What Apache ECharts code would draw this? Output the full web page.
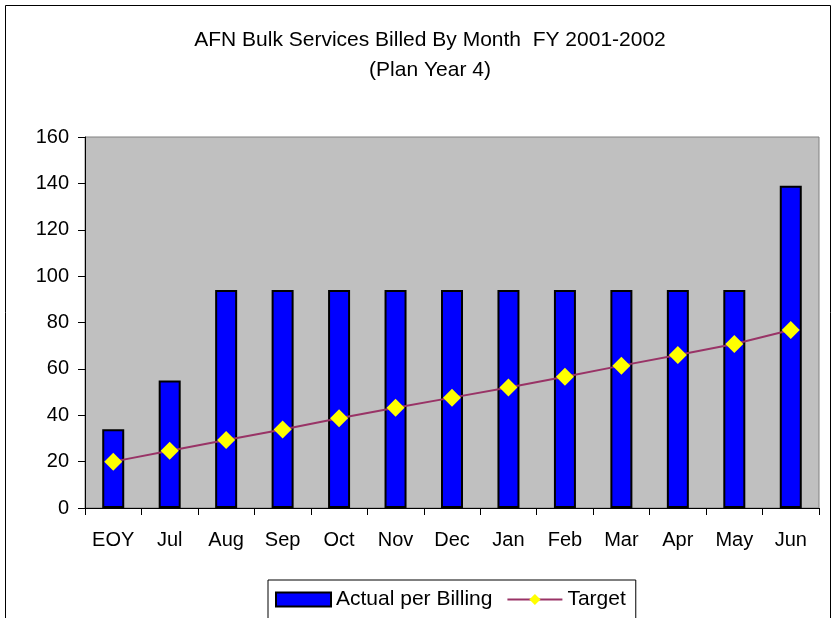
<!DOCTYPE html>
<html>
<head>
<meta charset="utf-8">
<script src="https://cdn.jsdelivr.net/npm/echarts@6/dist/echarts.min.js"></script>
<style>
  html, body { margin: 0; padding: 0; background: #fff; }
  #chart { width: 833px; height: 618px; }
</style>
</head>
<body>
<div id="chart"></div>
<script>
const months = ['EOY', 'Jul', 'Aug', 'Sep', 'Oct', 'Nov', 'Dec', 'Jan', 'Feb', 'Mar', 'Apr', 'May', 'Jun'];
const actual = [34, 55, 94, 94, 94, 94, 94, 94, 94, 94, 94, 94, 139];
const target = [20, 24.7, 29.3, 33.9, 38.7, 43.2, 47.6, 52, 56.6, 61.4, 66, 70.7, 76.8];
const yTicks = [0, 20, 40, 60, 80, 100, 120, 140, 160];

const font = 'Liberation Sans, Arial, sans-serif';
const chart = echarts.init(document.getElementById('chart'));

chart.setOption({
  backgroundColor: '#fff',
  animation: false,
  title: {
    text: 'AFN Bulk Services Billed By Month  FY 2001-2002\n(Plan Year 4)',
    left: 425,
    top: 20,
    textAlign: 'center',
    textStyle: { fontFamily: font, fontSize: 21, fontWeight: 'normal', color: '#000', lineHeight: 30 },
  },
  graphic: [{
    type: 'rect',
    shape: { x: 5.5, y: 5.5, width: 825, height: 640 },
    style: { fill: null, stroke: '#000', lineWidth: 1 },
    silent: true,
  }],
  legend: {
    left: 268,
    top: 580,
    itemWidth: 55,
    itemHeight: 14,
    itemGap: 14,
    padding: [9, 10, 9, 7],
    borderColor: '#000',
    borderWidth: 1,
    textStyle: { fontFamily: font, fontSize: 21, color: '#000' },
    data: [{ name: 'Actual per Billing', icon: 'rect' }, { name: 'Target' }],
  },
  grid: { left: 85, top: 137, right: 14, bottom: 110, show: true, backgroundColor: '#C0C0C0', borderColor: '#808080', borderWidth: 1 },
  xAxis: {
    type: 'category',
    data: months,
    boundaryGap: true,
    axisLine: { lineStyle: { color: '#000', width: 1 } },
    axisTick: { show: true, length: 7, lineStyle: { color: '#000' } },
    axisLabel: { fontFamily: font, fontSize: 20, color: '#000', margin: 22 },
  },
  yAxis: {
    type: 'value',
    min: yTicks[0],
    max: yTicks[yTicks.length - 1],
    interval: 20,
    axisLine: { show: true, lineStyle: { color: '#000', width: 1 } },
    axisTick: { show: true, length: 7, lineStyle: { color: '#000' } },
    splitLine: { show: false },
    axisLabel: { fontFamily: font, fontSize: 20, color: '#000', margin: 16 },
  },
  series: [
    {
      name: 'Actual per Billing',
      type: 'bar',
      data: actual,
      barWidth: 22,
      itemStyle: { color: '#0000FF', borderColor: '#000', borderWidth: 2 },
    },
    {
      name: 'Target',
      type: 'line',
      data: target,
      symbol: 'diamond',
      symbolSize: 18,
      lineStyle: { color: '#993366', width: 2 },
      itemStyle: { color: '#FFFF00', borderColor: '#FFFF00', borderWidth: 0 },
    },
  ],
});
</script>
</body>
</html>
